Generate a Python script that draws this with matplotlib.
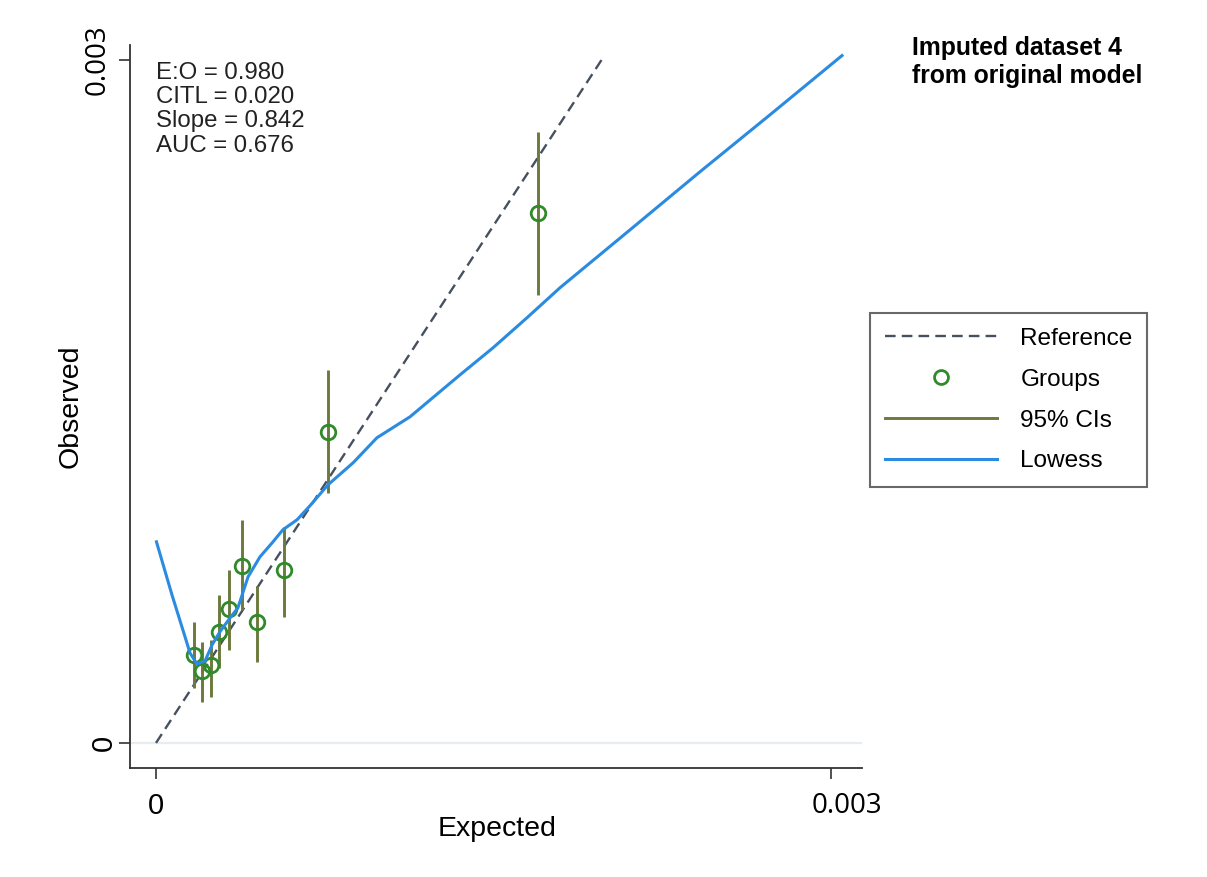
import matplotlib.pyplot as plt
import matplotlib.transforms as mtransforms
from matplotlib.lines import Line2D

# Grouped calibration points (expected vs observed risk) with 95% CIs
grp_expected = [0.000169, 0.000204, 0.000244, 0.000278, 0.000324,
                0.000380, 0.000451, 0.000567, 0.000766, 0.001700]
grp_observed = [0.000387, 0.000316, 0.000343, 0.000488, 0.000589,
                0.000777, 0.000531, 0.000760, 0.001366, 0.002328]
ci_low = [0.000242, 0.000180, 0.000202, 0.000329, 0.000408,
          0.000584, 0.000356, 0.000553, 0.001098, 0.001968]
ci_high = [0.000531, 0.000444, 0.000452, 0.000650, 0.000760,
           0.000980, 0.000690, 0.000949, 0.001638, 0.002684]

# Lowess smoother
lowess_x = [0.000002, 0.000071, 0.000129, 0.000151, 0.000182, 0.000218,
            0.000249, 0.000284, 0.000329, 0.000364, 0.000409, 0.000462,
            0.000520, 0.000564, 0.000627, 0.000684, 0.000764, 0.000876,
            0.000982, 0.001129, 0.001351, 0.001498, 0.001649, 0.001796,
            0.002107, 0.002418, 0.002729, 0.003049]
lowess_y = [0.000883, 0.000650, 0.000466, 0.000395, 0.000347, 0.000360,
            0.000430, 0.000488, 0.000549, 0.000593, 0.000729, 0.000817,
            0.000883, 0.000936, 0.000980, 0.001041, 0.001133, 0.001230,
            0.001340, 0.001432, 0.001616, 0.001735, 0.001867, 0.001999,
            0.002253, 0.002508, 0.002758, 0.003018]

# Reference line
ref_x = [0.0, 0.001987]
ref_y = [0.0, 0.003009]

tick_vals = [0.0, 0.003]
tick_labels = ["0", "0.003"]

stats_text = "E:O = 0.980\nCITL = 0.020\nSlope = 0.842\nAUC = 0.676"
title_text = "Imputed dataset 4\nfrom original model"

REF_COLOR = "#46505f"
GRP_COLOR = "#2f8a2a"
CI_COLOR = "#6b7a3c"
LOW_COLOR = "#2b8be0"
AXIS_COLOR = "#333333"

plt.rcParams["font.family"] = ["Liberation Sans", "DejaVu Sans"]

fig = plt.figure(figsize=(12.07, 8.77), dpi=100)
ax = fig.add_axes([0.1077, 0.1243, 0.6065, 0.8248])
ax.set_xlim(-0.0001156, 0.003138)
ax.set_ylim(-0.00011, 0.003066)

ax.axhline(0, color="#e6ecef", lw=1.6, zorder=0)

ax.plot(ref_x, ref_y, color=REF_COLOR, lw=1.7, dashes=(4.5, 2.6), zorder=1)
ax.vlines(grp_expected, ci_low, ci_high, color=CI_COLOR, lw=2.1, zorder=2)
ax.plot(grp_expected, grp_observed, "o", ms=10.5, mfc="none",
        mec=GRP_COLOR, mew=2.0, zorder=3)
ax.plot(lowess_x, lowess_y, color=LOW_COLOR, lw=2.2, zorder=4)

for side in ["top", "right"]:
    ax.spines[side].set_visible(False)
for side in ["left", "bottom"]:
    ax.spines[side].set_color(AXIS_COLOR)
    ax.spines[side].set_linewidth(1.3)

ax.set_xticks(tick_vals)
ax.set_yticks(tick_vals)
ax.set_xticklabels(tick_labels)
ax.set_yticklabels(tick_labels, rotation=90, va="center")
ax.tick_params(length=8, width=1.2, color=AXIS_COLOR)
ax.tick_params(axis="x", pad=9)
ax.tick_params(axis="y", pad=5)

for lab in ax.get_xticklabels() + ax.get_yticklabels():
    if lab.get_text() == "0.003":
        lab.set_fontfamily("Open Sans")
        lab.set_fontsize(20)
    else:
        lab.set_fontsize(21)
for lab in ax.get_xticklabels():
    if lab.get_text() == "0.003":
        lab.set_transform(lab.get_transform() + mtransforms.ScaledTranslation(
            0.16, 0, fig.dpi_scale_trans))
for lab in ax.get_yticklabels():
    if lab.get_text() == "0":
        lab.set_transform(lab.get_transform() + mtransforms.ScaledTranslation(
            0.06, 0, fig.dpi_scale_trans))

ax.set_xlabel("Expected", fontsize=20.5)
ax.set_ylabel("Observed", fontsize=20.5)
ax.xaxis.set_label_coords(0.501, -0.067)
ax.yaxis.set_label_coords(-0.064, 0.5)

ax.text(0.0, 0.002988, stats_text, fontsize=17.3, va="top", ha="left",
        linespacing=1.12, color="#222222", transform=ax.transData)

fig.text(0.7556, 0.9595, title_text, fontsize=17.8, fontweight="bold",
         va="top", ha="left", linespacing=1.22)

handles = [
    Line2D([], [], color=REF_COLOR, lw=1.7, dashes=(4.5, 2.6)),
    Line2D([], [], ls="none", marker="o", ms=10, mfc="none",
           mec=GRP_COLOR, mew=2.0),
    Line2D([], [], color=CI_COLOR, lw=2.1),
    Line2D([], [], color=LOW_COLOR, lw=2.2),
]
leg = fig.legend(handles, ["Reference", "Groups", "95% CIs", "Lowess"],
                 loc="center left", bbox_to_anchor=(0.7208, 0.5439),
                 fontsize=17.6, frameon=True, fancybox=False,
                 handlelength=4.6, handletextpad=0.95, labelspacing=0.77,
                 borderpad=0.6, borderaxespad=0)
leg.get_frame().set_edgecolor("#444444")
leg.get_frame().set_linewidth(1.5)

fig.savefig("out.png", dpi=100)
